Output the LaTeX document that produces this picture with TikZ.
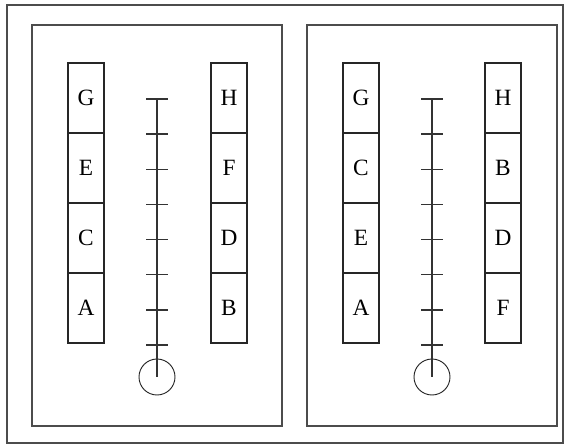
\documentclass[tikz,border=0pt]{standalone}
\usepackage{fontspec}
\setmainfont{Liberation Serif}
\usetikzlibrary{positioning,calc}
\begin{document}
\begin{tikzpicture}[x=0.75pt,y=-0.75pt,
  frame/.style={line width=1pt,draw=black!70},
  cell/.style={draw=black!85,line width=0.8pt,minimum width=27pt,minimum height=52.5pt,inner sep=0pt,outer sep=0pt,font=\fontsize{17.5}{20}\selectfont},
  bulb/.style={circle,draw=black!85,line width=0.7pt,minimum size=27pt,inner sep=0pt},
  rod/.style={line width=1pt,draw=black!80}]
  \useasboundingbox (0,0) rectangle (568,447);
  % Outer border
  \draw[frame] (7,5) rectangle (563,443);
  % Left panel
  \draw[frame] (32,25) rectangle (282,426);
  \node[cell] (lG) at (86,98) {G};
  \node[cell,below=0pt of lG] (lE) {E};
  \node[cell,below=0pt of lE] (lC) {C};
  \node[cell,below=0pt of lC] (lA) {A};
  \node[cell] (lH) at (229,98) {H};
  \node[cell,below=0pt of lH] (lF) {F};
  \node[cell,below=0pt of lF] (lD) {D};
  \node[cell,below=0pt of lD] (lB) {B};
  \node[bulb] (lBulb) at (157,377) {};
  \coordinate (lTop) at (157,99);
  \draw[rod] (lTop) -- (lBulb.center);
  \foreach \k in {0,...,7}
    \draw[rod] ($(lTop)+(-11,35.14*\k)$) -- ++(22,0);
  % Right panel
  \draw[frame] (307,25) rectangle (557,426);
  \node[cell] (rG) at (361,98) {G};
  \node[cell,below=0pt of rG] (rC) {C};
  \node[cell,below=0pt of rC] (rE) {E};
  \node[cell,below=0pt of rE] (rA) {A};
  \node[cell] (rH) at (503,98) {H};
  \node[cell,below=0pt of rH] (rB) {B};
  \node[cell,below=0pt of rB] (rD) {D};
  \node[cell,below=0pt of rD] (rF) {F};
  \node[bulb] (rBulb) at (432,377) {};
  \coordinate (rTop) at (432,99);
  \draw[rod] (rTop) -- (rBulb.center);
  \foreach \k in {0,...,7}
    \draw[rod] ($(rTop)+(-11,35.14*\k)$) -- ++(22,0);
\end{tikzpicture}
\end{document}
